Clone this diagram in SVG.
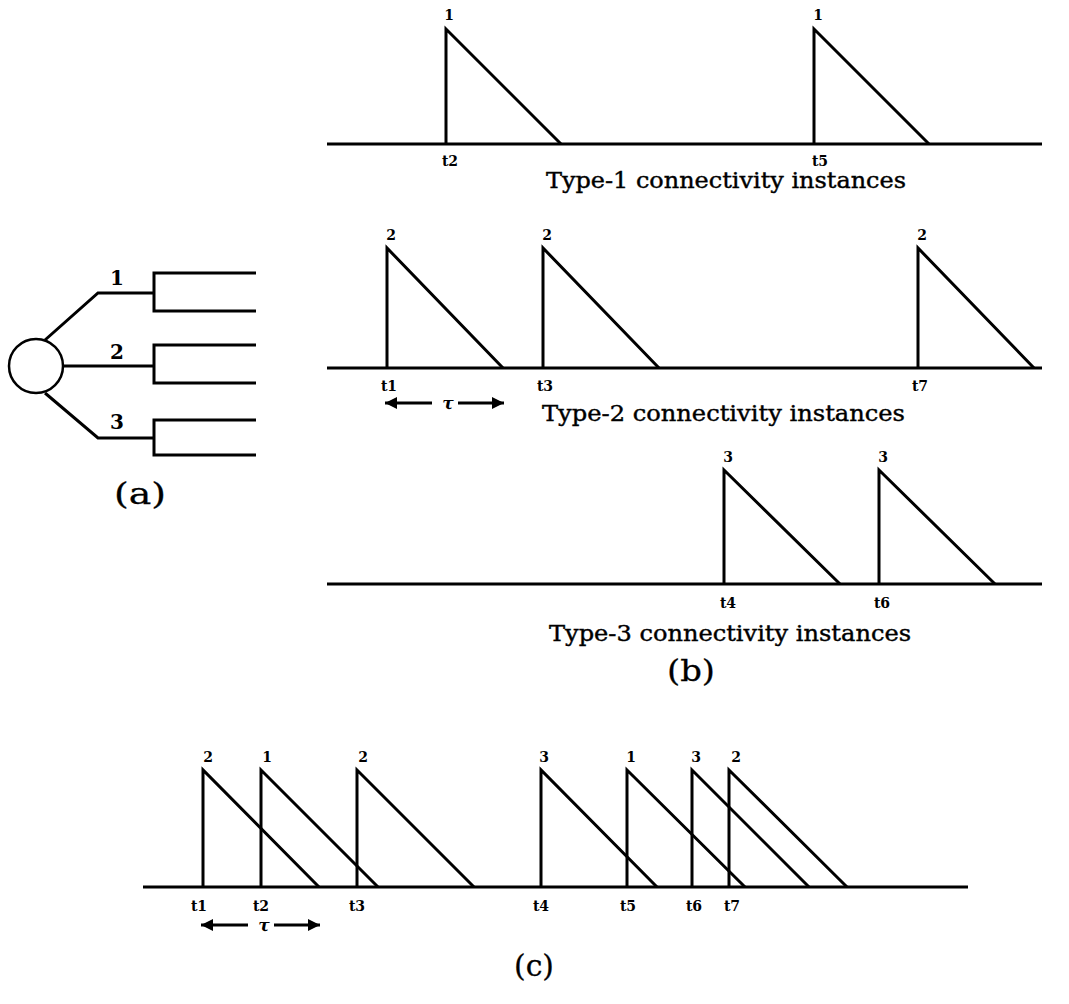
<svg xmlns="http://www.w3.org/2000/svg" width="1069" height="1004" viewBox="0 0 1069 1004">
<style>
  .ln{fill:none;stroke:#000;stroke-width:3;stroke-linejoin:miter;stroke-linecap:butt}
  .sm{font-family:"DejaVu Serif","Liberation Serif",serif;font-weight:bold;font-size:14px;text-anchor:middle;fill:#000}
  .cap{font-family:"DejaVu Serif","Liberation Serif",serif;font-size:22px;fill:#000;stroke:#000;stroke-width:0.4}
  .tr{font-family:"DejaVu Serif","Liberation Serif",serif;font-weight:bold;font-size:20px;text-anchor:middle;fill:#000}
  .pl{font-family:"DejaVu Serif","Liberation Serif",serif;font-size:30px;text-anchor:middle;fill:#000;stroke:#000;stroke-width:0.3}
  .tau{font-family:"DejaVu Serif","Liberation Serif",serif;font-style:italic;font-weight:bold;font-size:17px;text-anchor:middle;fill:#000}
</style>
<defs>
  <marker id="ah" viewBox="0 0 10 10" refX="10" refY="5" markerWidth="5" markerHeight="4" markerUnits="strokeWidth" orient="auto">
    <path d="M0,0 L10,5 L0,10 z" fill="#000"/>
  </marker>
</defs>

<!-- (a) tree -->
<g id="tree">
  <circle cx="36" cy="366" r="27" fill="none" stroke="#000" stroke-width="2.5"/>
  <polyline class="ln" points="45,340 98,293 154,293"/>
  <polyline class="ln" points="256,273 154,273 154,311 256,311"/>
  <line class="ln" x1="63" y1="366" x2="154" y2="366"/>
  <polyline class="ln" points="256,345 154,345 154,383 256,383"/>
  <polyline class="ln" points="45,393 98,438 154,438"/>
  <polyline class="ln" points="256,420 154,420 154,455 256,455"/>
  <text class="tr" x="117" y="285">1</text>
  <text class="tr" x="117" y="359">2</text>
  <text class="tr" x="117" y="429">3</text>
  <text class="pl" x="140" y="504" textLength="52" lengthAdjust="spacingAndGlyphs">(a)</text>
</g>

<!-- (b) type-1 -->
<g id="type1">
  <line class="ln" x1="327" y1="144" x2="1042" y2="144"/>
  <polyline class="ln" points="446,144 446,29 561,144"/>
  <polyline class="ln" points="814,144 814,29 929,144"/>
  <text class="sm" x="449" y="20">1</text>
  <text class="sm" x="818" y="20">1</text>
  <text class="sm" x="450" y="166">t2</text>
  <text class="sm" x="820" y="166">t5</text>
  <text class="cap" x="546" y="188" textLength="360" lengthAdjust="spacingAndGlyphs">Type-1 connectivity instances</text>
</g>

<!-- (b) type-2 -->
<g id="type2">
  <line class="ln" x1="327" y1="368" x2="1042" y2="368"/>
  <polyline class="ln" points="387,368 387,248 503,368"/>
  <polyline class="ln" points="543,368 543,248 659,368"/>
  <polyline class="ln" points="918,368 918,248 1034,368"/>
  <text class="sm" x="391" y="240">2</text>
  <text class="sm" x="547" y="240">2</text>
  <text class="sm" x="922" y="240">2</text>
  <text class="sm" x="389" y="391">t1</text>
  <text class="sm" x="545" y="391">t3</text>
  <text class="sm" x="920" y="391">t7</text>
  <line x1="432" y1="403" x2="385" y2="403" stroke="#000" stroke-width="3" marker-end="url(#ah)"/>
  <text class="tau" x="448" y="409">τ</text>
  <line x1="458" y1="403" x2="504" y2="403" stroke="#000" stroke-width="3" marker-end="url(#ah)"/>
  <text class="cap" x="542" y="421" textLength="363" lengthAdjust="spacingAndGlyphs">Type-2 connectivity instances</text>
</g>

<!-- (b) type-3 -->
<g id="type3">
  <line class="ln" x1="327" y1="584" x2="1042" y2="584"/>
  <polyline class="ln" points="724,584 724,470 840,584"/>
  <polyline class="ln" points="879,584 879,470 995,584"/>
  <text class="sm" x="728" y="462">3</text>
  <text class="sm" x="883" y="462">3</text>
  <text class="sm" x="728" y="608">t4</text>
  <text class="sm" x="882" y="608">t6</text>
  <text class="cap" x="549" y="641" textLength="362" lengthAdjust="spacingAndGlyphs">Type-3 connectivity instances</text>
  <text class="pl" x="691" y="681" textLength="48" lengthAdjust="spacingAndGlyphs">(b)</text>
</g>

<!-- (c) combined -->
<g id="combined">
  <line class="ln" x1="143" y1="887" x2="968" y2="887"/>
  <polyline class="ln" points="203,887 203,770 319,887"/>
  <polyline class="ln" points="261,887 261,770 378,887"/>
  <polyline class="ln" points="357,887 357,770 474,887"/>
  <polyline class="ln" points="541,887 541,770 657,887"/>
  <polyline class="ln" points="627,887 627,770 745,887"/>
  <polyline class="ln" points="692,887 692,770 809,887"/>
  <polyline class="ln" points="729,887 729,770 847,887"/>
  <text class="sm" x="208" y="762">2</text>
  <text class="sm" x="267" y="762">1</text>
  <text class="sm" x="363" y="762">2</text>
  <text class="sm" x="544" y="762">3</text>
  <text class="sm" x="631" y="762">1</text>
  <text class="sm" x="696" y="762">3</text>
  <text class="sm" x="736" y="762">2</text>
  <text class="sm" x="199" y="911">t1</text>
  <text class="sm" x="261" y="911">t2</text>
  <text class="sm" x="357" y="911">t3</text>
  <text class="sm" x="541" y="911">t4</text>
  <text class="sm" x="628" y="911">t5</text>
  <text class="sm" x="694" y="911">t6</text>
  <text class="sm" x="732" y="911">t7</text>
  <line x1="248" y1="925" x2="201" y2="925" stroke="#000" stroke-width="3" marker-end="url(#ah)"/>
  <text class="tau" x="264" y="931">τ</text>
  <line x1="274" y1="925" x2="320" y2="925" stroke="#000" stroke-width="3" marker-end="url(#ah)"/>
  <text class="pl" x="534" y="976" textLength="40" lengthAdjust="spacingAndGlyphs">(c)</text>
</g>
</svg>
